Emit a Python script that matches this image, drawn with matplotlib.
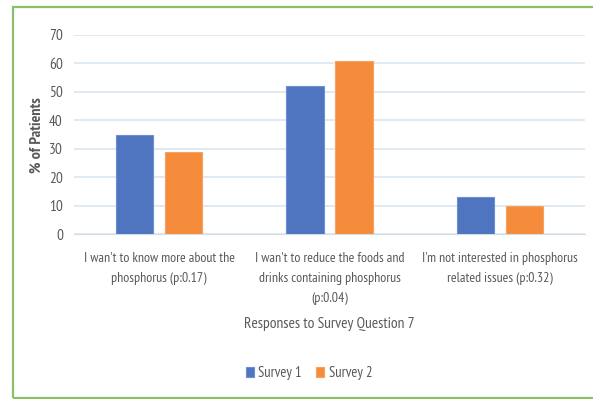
import matplotlib.pyplot as plt
from matplotlib.patches import Rectangle
import numpy as np

categories = [
    "I wan't to know more about the\nphosphorus (p:0.17)",
    "I wan't to reduce the foods and\ndrinks containing phosphorus\n(p:0.04)",
    "I'm not interested in phosphorus\nrelated issues (p:0.32)",
]
survey1 = [35, 52, 13]
survey2 = [29, 61, 10]
yticks = [0, 10, 20, 30, 40, 50, 60, 70]

plt.rcParams['font.family'] = ['PT Sans Narrow', 'DejaVu Sans']
txt = '#595959'
W, H = 593, 399

fig = plt.figure(figsize=(W / 100, H / 100), dpi=100)
# green frame, open on the right edge
fig.patches.append(Rectangle((13 / W, 1.5 / H), 600 / W, 391 / H, transform=fig.transFigure,
                             fill=False, edgecolor='#8cbf6a', linewidth=1.6))

ax = fig.add_axes([74 / W, 1 - 234 / H, 511 / W, 199 / H])
x = np.arange(len(categories))
w = 0.22
ax.bar(x - 0.144, survey1, w, color='#4f74c0', edgecolor='#6a8fd6', linewidth=0.8,
       label='Survey 1', zorder=3)
ax.bar(x + 0.144, survey2, w, color='#f48c3c', edgecolor='#f7a25f', linewidth=0.8,
       label='Survey 2', zorder=3)

ax.set_xlim(-0.5, 2.5)
ax.set_ylim(0, 70)
ax.set_yticks(yticks)
ax.yaxis.grid(True, color='#dce6f0', linewidth=1.2, zorder=0)
for s in ['top', 'right', 'left']:
    ax.spines[s].set_visible(False)
ax.spines['bottom'].set_color('#d3dde8')
ax.tick_params(axis='both', length=0, colors=txt)
ax.tick_params(axis='y', pad=8, labelsize=11)
ax.set_xticks(x)
ax.set_xticklabels(categories, fontsize=10, color=txt, linespacing=1.72)
ax.tick_params(axis='x', pad=13)

fig.text(37 / W, 1 - 135 / H, '% of Patients', rotation=90, ha='center', va='center',
         fontsize=11.5, color=txt, fontweight='bold')
fig.text(329 / W, 1 - 324 / H, 'Responses to Survey Question 7', ha='center', va='center',
         fontsize=11.2, color=txt)
ax.legend(loc='center', bbox_to_anchor=(309 / W, 1 - 373 / H), bbox_transform=fig.transFigure,
          ncol=2, frameon=False, fontsize=10.5, labelcolor=txt, handlelength=0.55,
          handleheight=0.65, handletextpad=0.3, columnspacing=1.0, borderpad=0)

fig.savefig('out.png', dpi=100)
